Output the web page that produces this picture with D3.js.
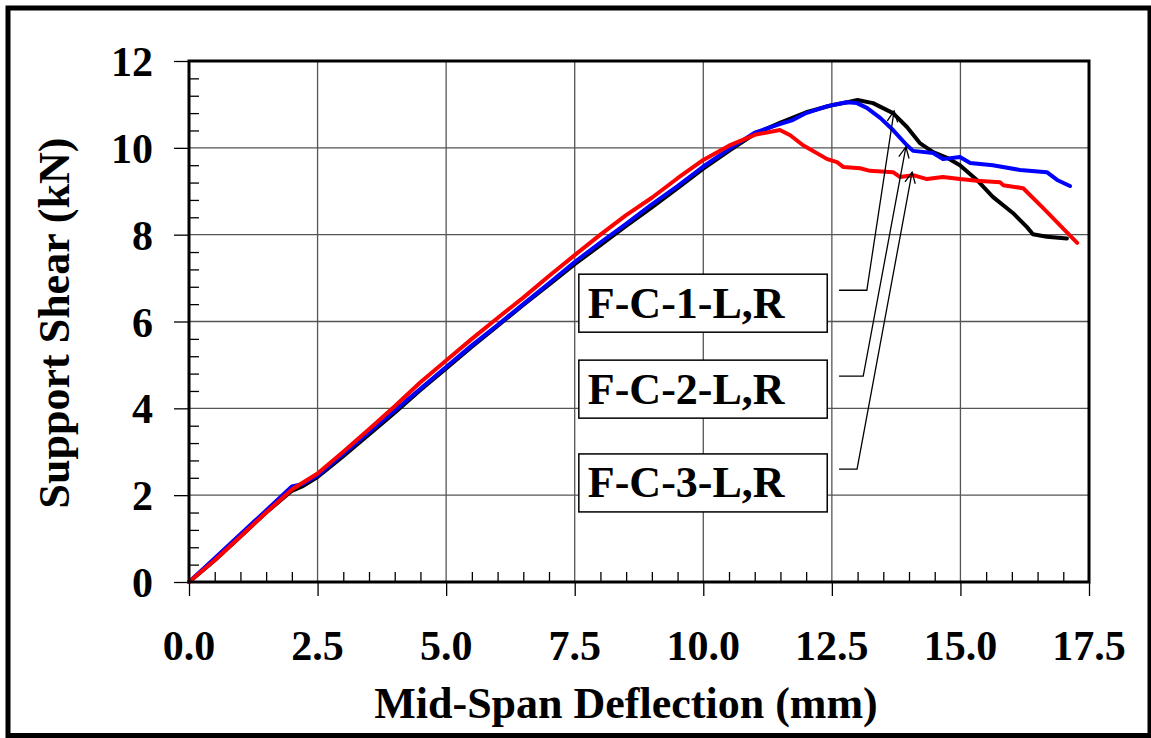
<!DOCTYPE html>
<html><head><meta charset="utf-8">
<script src="https://cdn.jsdelivr.net/npm/d3@7"></script>
<style>body{margin:0;background:#fff}</style>
</head><body><svg id="c" width="1151" height="738"></svg>
<script>
const xTicks=[0,2.5,5,7.5,10,12.5,15,17.5];
const xTickLabels=["0.0","2.5","5.0","7.5","10.0","12.5","15.0","17.5"];
const yTicks=[0,2,4,6,8,10,12];
const yTickLabels=["0","2","4","6","8","10","12"];

const blackX=[0,0.5,1,1.5,2,2.2,2.5,3,3.5,4,4.5,5,5.5,6,6.5,7,7.5,8,8.5,9,9.5,10,10.5,11,11.5,12,12.5,12.8,13.0,13.3,13.69,13.96,14.21,14.47,14.74,14.99,15.32,15.63,16.02,16.29,16.41,16.68,17.07];
const blackY=[0,0.5,1.05,1.6,2.1,2.2,2.42,2.9,3.4,3.9,4.42,4.92,5.42,5.9,6.38,6.85,7.32,7.76,8.2,8.63,9.07,9.52,9.93,10.32,10.58,10.82,10.98,11.05,11.1,11.03,10.8,10.48,10.11,9.9,9.77,9.6,9.26,8.87,8.5,8.18,8.01,7.95,7.91];

const blueX=[0,0.5,1,1.5,2,2.2,2.5,3,3.5,4,4.5,5,5.5,6,6.5,7,7.5,8,8.5,9,9.5,10,10.5,11,11.5,11.74,12,12.41,12.79,12.99,13.18,13.44,13.69,13.96,14.08,14.47,14.66,14.99,15.19,15.63,16.16,16.68,16.88,17.13];
const blueY=[0,0.55,1.1,1.65,2.2,2.25,2.45,2.95,3.45,3.95,4.45,4.95,5.45,5.92,6.4,6.88,7.37,7.82,8.25,8.7,9.12,9.57,9.97,10.35,10.55,10.64,10.8,10.96,11.05,11.03,10.92,10.69,10.41,10.06,9.93,9.88,9.74,9.79,9.65,9.6,9.49,9.44,9.26,9.12];

const redX=[0,0.5,1,1.5,2,2.5,3,3.5,4,4.5,5,5.5,6,6.5,7,7.5,8,8.5,9,9.5,10,10.5,11,11.49,11.69,11.94,12.41,12.6,12.72,13.05,13.24,13.69,13.82,14.08,14.35,14.66,14.99,15.32,15.77,15.83,16.22,16.61,17.27];
const redY=[0,0.5,1.05,1.6,2.13,2.5,3.0,3.52,4.05,4.6,5.1,5.6,6.08,6.55,7.05,7.53,8.0,8.45,8.85,9.3,9.72,10.05,10.3,10.41,10.29,10.06,9.74,9.67,9.56,9.53,9.47,9.44,9.33,9.37,9.28,9.33,9.28,9.24,9.21,9.14,9.07,8.61,7.81];

const legendLabels=["F-C-1-L,R","F-C-2-L,R","F-C-3-L,R"];

const svg=d3.select("#c");
const x=d3.scaleLinear().domain([0,17.5]).range([189,1089]);
const y=d3.scaleLinear().domain([0,12]).range([582,61]);
const font="'Liberation Serif','Times New Roman',serif";

svg.append("rect").attr("x",8).attr("y",8).attr("width",1142).attr("height",727.5)
  .attr("fill","#fff").attr("stroke","#000").attr("stroke-width",5);

// grid
const g=svg.append("g");
g.selectAll(".vg").data(xTicks.slice(1,-1)).join("line")
  .attr("x1",d=>x(d)).attr("x2",d=>x(d)).attr("y1",y(12)).attr("y2",y(0))
  .attr("stroke","#555").attr("stroke-width",1.3);
g.selectAll(".hg").data(yTicks.slice(1,-1)).join("line")
  .attr("y1",d=>y(d)).attr("y2",d=>y(d)).attr("x1",x(0)).attr("x2",x(17.5))
  .attr("stroke","#555").attr("stroke-width",1.3);

// minor ticks (inside)
const xMinor=d3.range(0,17.51,0.5).filter(v=>Math.abs(v/2.5-Math.round(v/2.5))>1e-6);
const yMinor=d3.range(0,12.01,0.4).filter(v=>Math.abs(v/2-Math.round(v/2))>1e-6);
const ax=svg.append("g").attr("transform",`translate(0,${y(0)})`)
  .call(d3.axisBottom(x).tickValues(xMinor).tickSize(-10).tickFormat("").tickSizeOuter(0));
const ay=svg.append("g").attr("transform",`translate(${x(0)},0)`)
  .call(d3.axisLeft(y).tickValues(yMinor).tickSize(-10).tickFormat("").tickSizeOuter(0));
// major ticks (outside)
const bx=svg.append("g").attr("transform",`translate(0,${y(0)})`)
  .call(d3.axisBottom(x).tickValues(xTicks).tickSize(14).tickFormat("").tickSizeOuter(0));
const by=svg.append("g").attr("transform",`translate(${x(0)},0)`)
  .call(d3.axisLeft(y).tickValues(yTicks).tickSize(15).tickFormat("").tickSizeOuter(0));
[ax,ay,bx,by].forEach(a=>{a.select(".domain").remove();a.selectAll("line").attr("stroke","#000").attr("stroke-width",1.3);});

// curves
const line=d3.line().x(d=>x(d[0])).y(d=>y(d[1]));
const series=[[blackX,blackY,"#000"],[blueX,blueY,"#0000ff"],[redX,redY,"#ff0000"]];
series.forEach(([xs,ys,c])=>{
  svg.append("path").datum(xs.map((v,i)=>[v,ys[i]])).attr("d",line)
    .attr("fill","none").attr("stroke",c).attr("stroke-width",4)
    .attr("stroke-linejoin","round").attr("stroke-linecap","round");
});

// plot frame
svg.append("rect").attr("x",x(0)).attr("y",y(12)).attr("width",x(17.5)-x(0)).attr("height",y(0)-y(12))
  .attr("fill","none").attr("stroke","#000").attr("stroke-width",3);

// tick labels
svg.selectAll(".xl").data(xTicks).join("text")
  .attr("x",d=>x(d)).attr("y",660).attr("text-anchor","middle")
  .attr("font-family",font).attr("font-weight","bold").attr("font-size",42)
  .text((d,i)=>xTickLabels[i]);
svg.selectAll(".yl").data(yTicks).join("text")
  .attr("x",153).attr("y",d=>y(d)).attr("dy","0.36em").attr("text-anchor","end")
  .attr("font-family",font).attr("font-weight","bold").attr("font-size",42)
  .text((d,i)=>yTickLabels[i]);

// axis titles
svg.append("text").attr("x",626).attr("y",718).attr("text-anchor","middle")
  .attr("font-family",font).attr("font-weight","bold").attr("font-size",44)
  .text("Mid-Span Deflection (mm)");
svg.append("text").attr("transform","translate(69,323) rotate(-90)").attr("text-anchor","middle")
  .attr("font-family",font).attr("font-weight","bold").attr("font-size",44)
  .text("Support Shear (kN)");

// legend boxes
const boxTop=[7.09,5.11,2.95];
legendLabels.forEach((lab,i)=>{
  const top=y(boxTop[i]);
  svg.append("rect").attr("x",x(7.58)).attr("y",top).attr("width",x(12.41)-x(7.58)).attr("height",58)
    .attr("fill","#fff").attr("stroke","#000").attr("stroke-width",1.5);
  svg.append("text").attr("x",x(7.58)+9).attr("y",top+43.5)
    .attr("font-family",font).attr("font-weight","bold").attr("font-size",44).text(lab);
});

// annotation leaders (data units)
const leaders=[
  [[12.64,6.72],[13.18,6.72],[13.71,10.85]],
  [[12.64,4.74],[13.11,4.74],[13.94,10.02]],
  [[12.64,2.60],[12.99,2.60],[14.06,9.44]]
];
leaders.forEach(pts=>{
  const p=pts.map(d=>[x(d[0]),y(d[1])]);
  svg.append("path").attr("d",d3.line()(p)).attr("fill","none").attr("stroke","#000").attr("stroke-width",1.3);
  const [a,b]=[p[1],p[2]];
  const ang=Math.atan2(b[1]-a[1],b[0]-a[0]);
  const L=12,s=0.45;
  const h1=[b[0]-L*Math.cos(ang-s),b[1]-L*Math.sin(ang-s)];
  const h2=[b[0]-L*Math.cos(ang+s),b[1]-L*Math.sin(ang+s)];
  svg.append("path").attr("d",d3.line()([h1,b,h2])).attr("fill","none").attr("stroke","#000").attr("stroke-width",1.3);
});
</script></body></html>
